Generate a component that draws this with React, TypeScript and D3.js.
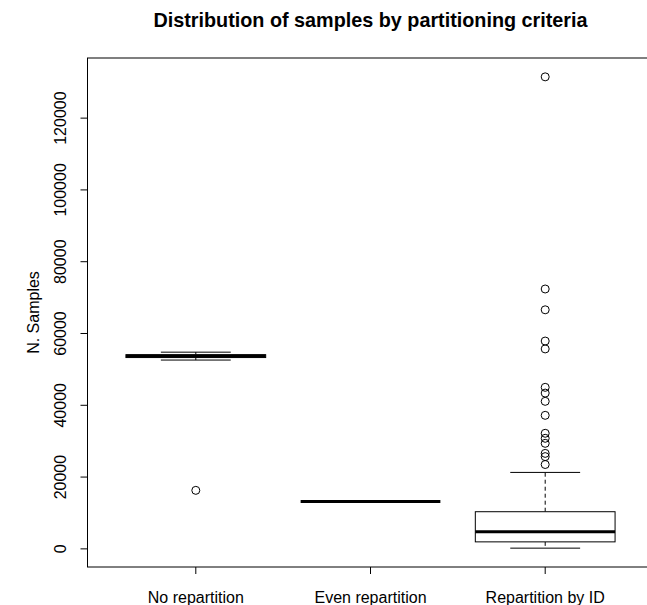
import React, { useEffect, useRef } from 'react';
import * as d3 from 'd3';

const categories = ['No repartition', 'Even repartition', 'Repartition by ID'];
const whiskerLow = [52600, 13200, 200];
const q1 = [53300, 13200, 1950];
const median = [53700, 13200, 4750];
const q3 = [54100, 13200, 10350];
const whiskerHigh = [54800, 13200, 21300];
const outliers = [
  [16300],
  [],
  [131500, 72400, 66600, 57900, 55700, 45000, 43400, 41100, 37200, 32200, 30800, 29400, 26600, 25700, 23500],
];
const yTicks = [0, 20000, 40000, 60000, 80000, 100000, 120000];

const App = () => {
  const ref = useRef<SVGSVGElement>(null);

  useEffect(() => {
    const width = 647;
    const height = 605;
    const left = 87.5;
    const right = 653.5;
    const top = 58;
    const bottom = 567;
    const font = '"Liberation Sans", Arial, sans-serif';

    const svg = d3.select(ref.current);
    svg.selectAll('*').remove();
    svg.attr('width', width).attr('height', height);

    // R style: extend ranges by 4%
    const allVals = [...whiskerLow, ...whiskerHigh, ...outliers.flat()];
    const lo = d3.min(allVals) as number;
    const hi = d3.max(allVals) as number;
    const pad = (hi - lo) * 0.04;
    const y = d3.scaleLinear().domain([lo - pad, hi + pad]).range([bottom, top]);
    const x = d3.scaleLinear().domain([0.38, 3.62]).range([left, right]);
    const unit = x(2) - x(1);
    const boxW = unit * 0.8;
    const capW = boxW * 0.5;

    // plot frame
    svg.append('rect')
      .attr('x', left).attr('y', top)
      .attr('width', right - left).attr('height', bottom - top)
      .attr('fill', 'none').attr('stroke', '#000').attr('stroke-width', 1);

    const g = svg.append('g');
    categories.forEach((c, i) => {
      const cx = x(i + 1);
      // whiskers
      g.append('line')
        .attr('x1', cx).attr('x2', cx)
        .attr('y1', y(q3[i])).attr('y2', y(whiskerHigh[i]))
        .attr('stroke', '#000').attr('stroke-dasharray', '4,3');
      g.append('line')
        .attr('x1', cx).attr('x2', cx)
        .attr('y1', y(q1[i])).attr('y2', y(whiskerLow[i]))
        .attr('stroke', '#000').attr('stroke-dasharray', '4,3');
      [whiskerLow[i], whiskerHigh[i]].forEach((v) => {
        g.append('line')
          .attr('x1', cx - capW / 2).attr('x2', cx + capW / 2)
          .attr('y1', y(v)).attr('y2', y(v))
          .attr('stroke', '#000');
      });
      // box
      g.append('rect')
        .attr('x', cx - boxW / 2).attr('width', boxW)
        .attr('y', y(q3[i])).attr('height', Math.max(0, y(q1[i]) - y(q3[i])))
        .attr('fill', 'white').attr('stroke', '#000');
      // median
      g.append('line')
        .attr('x1', cx - boxW / 2).attr('x2', cx + boxW / 2)
        .attr('y1', y(median[i])).attr('y2', y(median[i]))
        .attr('stroke', '#000').attr('stroke-width', 3);
      // outliers
      g.selectAll(null)
        .data(outliers[i])
        .enter()
        .append('circle')
        .attr('cx', cx).attr('cy', (d) => y(d))
        .attr('r', 4)
        .attr('fill', 'none').attr('stroke', '#000');
    });

    // y axis
    const ya = svg.append('g');
    ya.append('line')
      .attr('x1', left).attr('x2', left)
      .attr('y1', y(yTicks[0])).attr('y2', y(yTicks[yTicks.length - 1]))
      .attr('stroke', '#000');
    yTicks.forEach((t) => {
      ya.append('line')
        .attr('x1', left - 7).attr('x2', left)
        .attr('y1', y(t)).attr('y2', y(t))
        .attr('stroke', '#000');
      ya.append('text')
        .attr('transform', `translate(66, ${y(t)}) rotate(-90)`)
        .attr('text-anchor', 'middle')
        .style('font-family', font).style('font-size', '16px')
        .text(String(t));
    });

    // x axis
    categories.forEach((c, i) => {
      svg.append('line')
        .attr('x1', x(i + 1)).attr('x2', x(i + 1))
        .attr('y1', bottom).attr('y2', bottom + 7)
        .attr('stroke', '#000');
      svg.append('text')
        .attr('x', x(i + 1)).attr('y', 603)
        .attr('text-anchor', 'middle')
        .style('font-family', font).style('font-size', '16px')
        .text(c);
    });

    svg.append('text')
      .attr('transform', `translate(39, ${(top + bottom) / 2}) rotate(-90)`)
      .attr('text-anchor', 'middle')
      .style('font-family', font).style('font-size', '16px')
      .text('N. Samples');

    svg.append('text')
      .attr('x', (left + right) / 2).attr('y', 27)
      .attr('text-anchor', 'middle')
      .style('font-family', font).style('font-size', '19.8px').style('font-weight', 'bold')
      .text('Distribution of samples by partitioning criteria');
  }, []);

  return (
    <div style={{ position: 'absolute', left: 0, top: 0 }}>
      <svg ref={ref} style={{ display: 'block', background: 'white' }} />
    </div>
  );
};

export default App;
